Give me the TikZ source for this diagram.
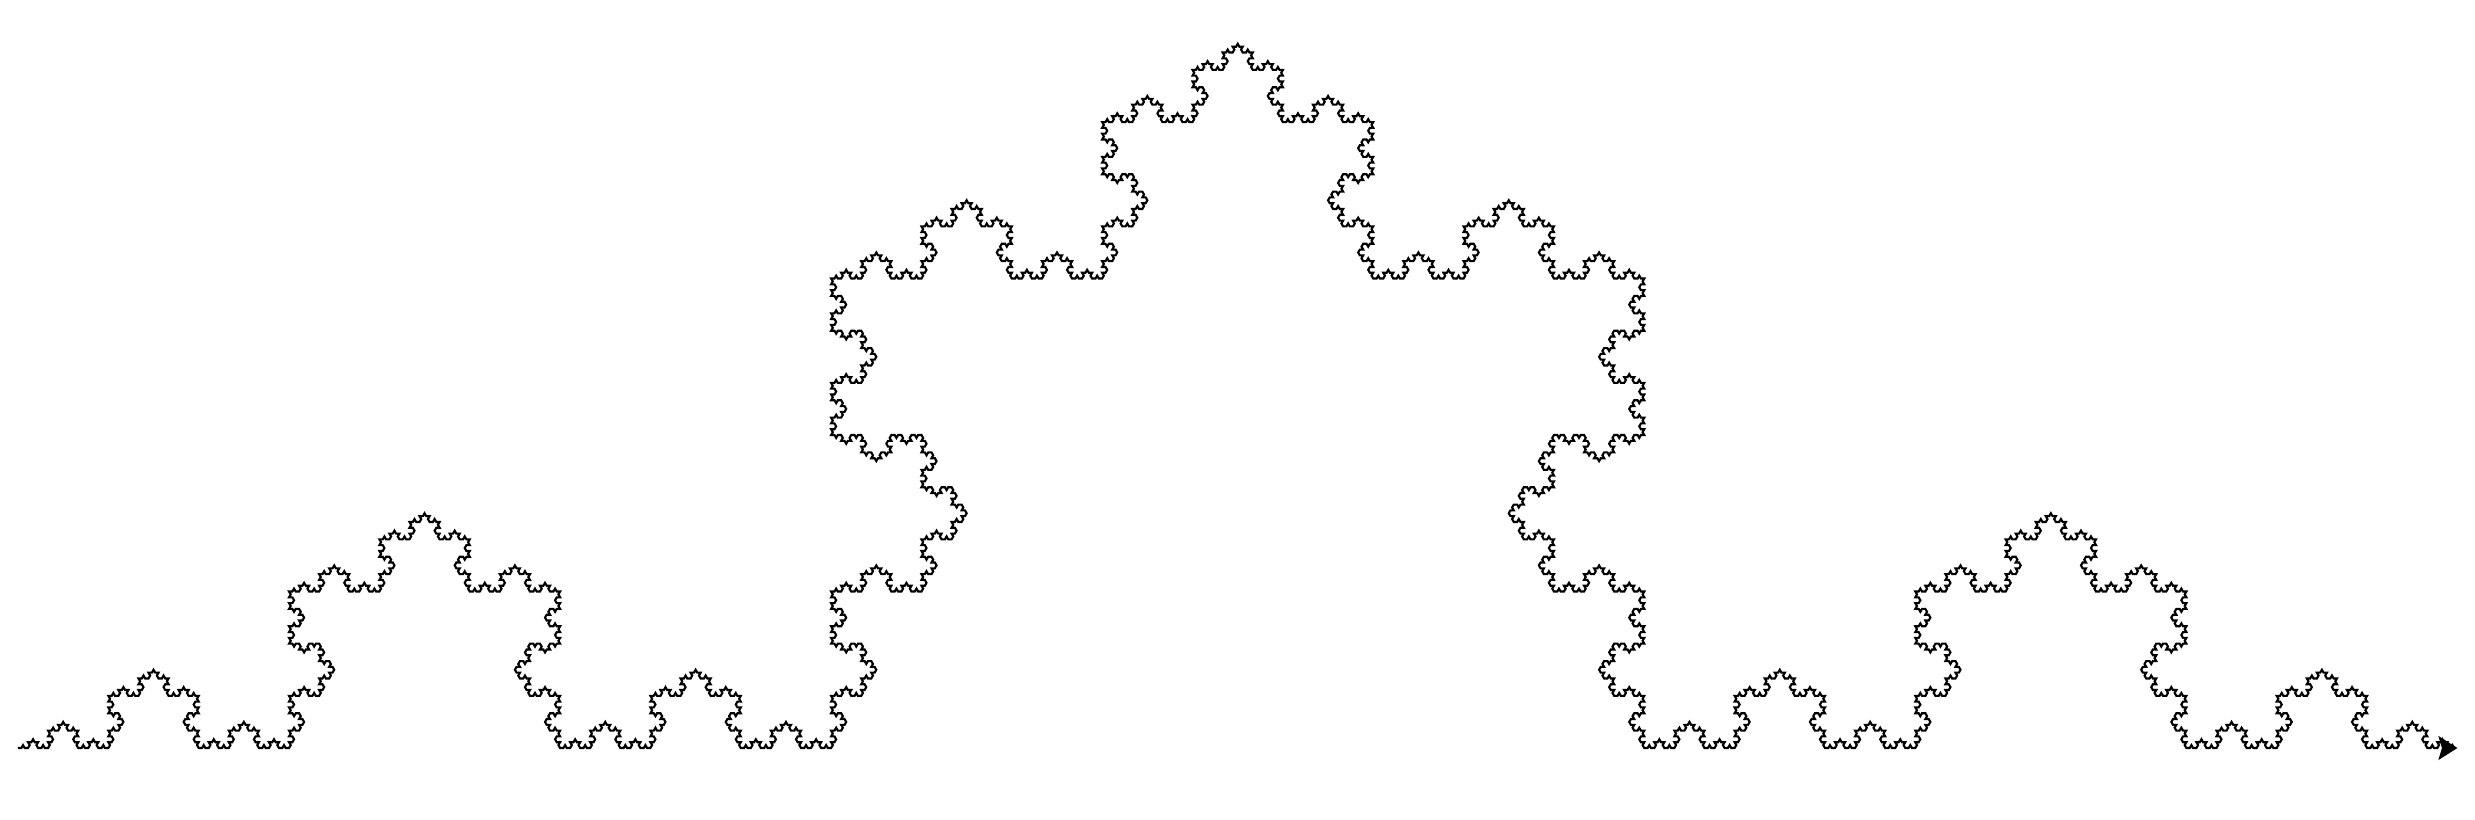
\documentclass[tikz,border=0pt]{standalone}
\usetikzlibrary{lindenmayersystems,arrows.meta}
\pgfdeclarelindenmayersystem{Koch curve}{\rule{F -> F+F--F+F}}

\begin{document}
\begin{tikzpicture}
\def\seg{0.03347cm}
\useasboundingbox (0,0) rectangle (24.75,8.19);
\begin{scope}[shift={(0.18,0.71)}]
\draw[black,line width=0.6pt,line join=miter,-{Stealth[length=5.4pt,width=6.8pt,inset=1pt]},
  lindenmayer system={Koch curve,axiom=F,order=6,step=\seg,angle=60}]
  lindenmayer system;
\end{scope}
\end{tikzpicture}
\end{document}
